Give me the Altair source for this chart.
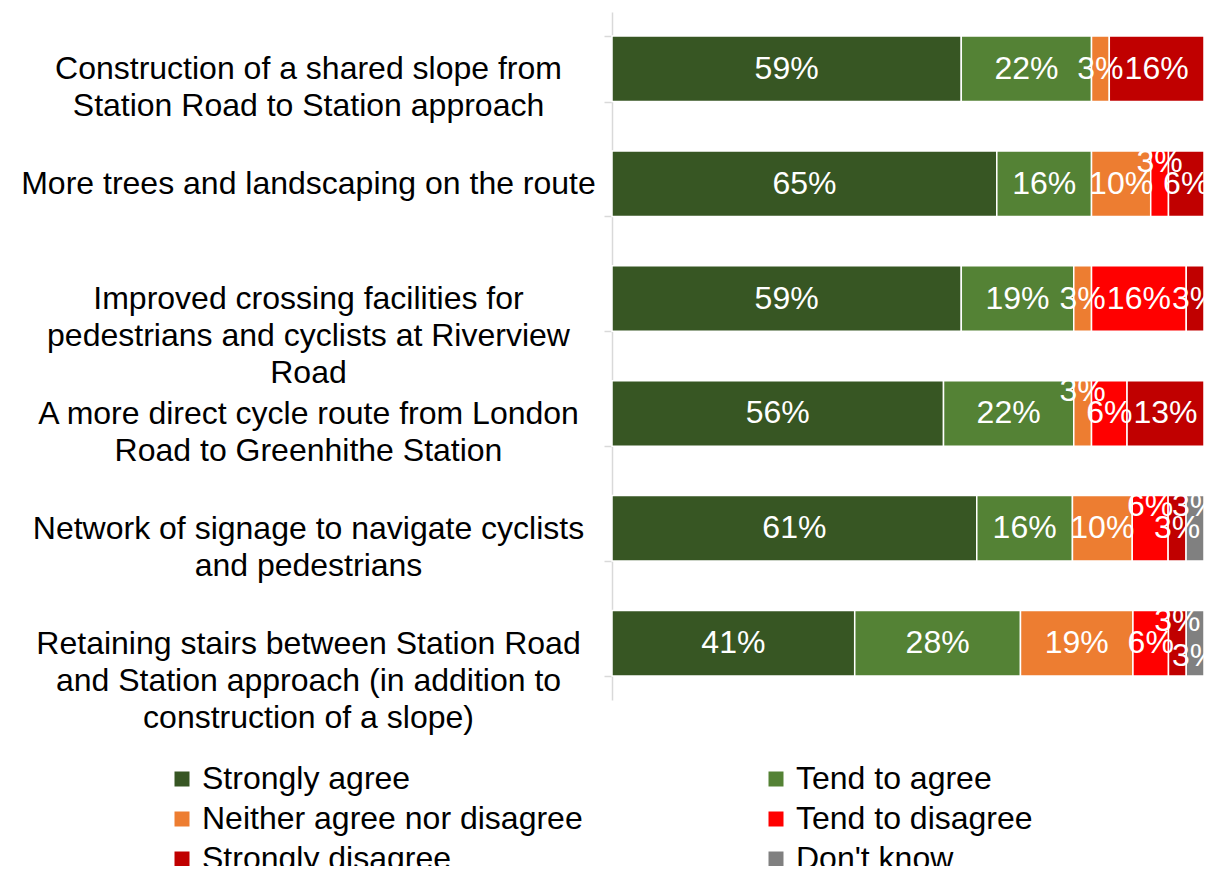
import altair as alt
import pandas as pd

questions = [
    "Construction of a shared slope from|Station Road to Station approach",
    "More trees and landscaping on the route",
    "Improved crossing facilities for|pedestrians and cyclists at Riverview|Road",
    "A more direct cycle route from London|Road to Greenhithe Station",
    "Network of signage to navigate cyclists|and pedestrians",
    "Retaining stairs between Station Road|and Station approach (in addition to|construction of a slope)",
]
responses = ["Strongly agree", "Tend to agree", "Neither agree nor disagree",
             "Tend to disagree", "Strongly disagree", "Don't know"]
colors = ["#375623", "#548235", "#ED7D31", "#FF0000", "#C00000", "#808080"]

strongly_agree = [59, 65, 59, 56, 61, 41]
tend_agree = [22, 16, 19, 22, 16, 28]
neither = [3, 10, 3, 3, 10, 19]
tend_disagree = [0, 3, 16, 6, 6, 6]
strongly_disagree = [16, 6, 3, 13, 3, 3]
dont_know = [0, 0, 0, 0, 3, 3]

# label placement style (Excel moved a few small labels off-centre)
label_nudge = {
    (1, "Tend to disagree"): "up",
    (3, "Neither agree nor disagree"): "up",
    (4, "Tend to disagree"): "up",
    (4, "Don't know"): "up",
    (5, "Strongly disagree"): "up",
    (5, "Don't know"): "down",
}

series = [strongly_agree, tend_agree, neither, tend_disagree, strongly_disagree, dont_know]
rows = []
for qi, q in enumerate(questions):
    for ri, r in enumerate(responses):
        v = series[ri][qi]
        if v > 0:
            rows.append({"question": q, "response": r, "order": ri, "value": v,
                         "label": f"{v}%", "nudge": label_nudge.get((qi, r), "none")})
df = pd.DataFrame(rows)

FONT = "Liberation Sans"
FS = 32

base = (
    alt.Chart(df)
    .transform_joinaggregate(total="sum(value)", groupby=["question"])
    .transform_calculate(frac="datum.value / datum.total")
    .transform_stack(stack="frac", groupby=["question"], as_=["x0", "x1"],
                     sort=[alt.SortField("order", order="ascending")])
    .transform_calculate(mid="(datum.x0 + datum.x1) / 2")
)

y_enc = alt.Y(
    "question:N",
    sort=questions,
    scale=alt.Scale(paddingInner=0.43, paddingOuter=0.21),
    axis=alt.Axis(
        title=None,
        labelExpr="split(datum.label, '|')",
        labelAlign="center",
        labelBaseline="middle",
        labelPadding=296,
        labelFontSize=FS,
        labelFont=FONT,
        labelColor="#000000",
        labelLineHeight=37,
        labelLimit=0,
        domainColor="#d9d9d9",
        domainWidth=1.5,
        tickColor="#d9d9d9",
        tickWidth=1.5,
        tickSize=8,
        tickBand="extent",
    ),
)

bars = base.mark_bar(stroke="white", strokeWidth=1.5).encode(
    y=y_enc,
    x=alt.X("x0:Q", scale=alt.Scale(domain=[0, 1]), axis=None),
    x2="x1:Q",
    color=alt.Color(
        "response:N",
        scale=alt.Scale(domain=responses, range=colors),
        legend=alt.Legend(
            title=None,
            orient="none",
            direction="horizontal",
            legendX=-446,
            legendY=751,
            columns=2,
            symbolType="square",
            symbolSize=225,
            symbolStrokeWidth=0,
            labelFontSize=FS,
            labelFont=FONT,
            labelColor="#000000",
            labelLimit=0,
            rowPadding=8,
            columnPadding=177,
        ),
    ),
)

def text_layer(nudge, dy):
    return base.transform_filter(alt.datum.nudge == nudge).mark_text(
        color="white", fontSize=FS, font=FONT, dy=dy
    ).encode(
        y=alt.Y("question:N", sort=questions),
        x=alt.X("mid:Q"),
        text="label:N",
    )

chart = (
    alt.layer(bars, text_layer("none", 0), text_layer("up", -22), text_layer("down", 13))
    .properties(width=592, height=688,
                autosize=alt.AutoSizeParams(type="none"),
                padding={"left": 604, "top": 4, "right": 0, "bottom": 166})
    .configure(font=FONT)
    .configure_view(stroke=None)
)

chart.save("out.html", embed_options={"renderer": "svg", "actions": False})
